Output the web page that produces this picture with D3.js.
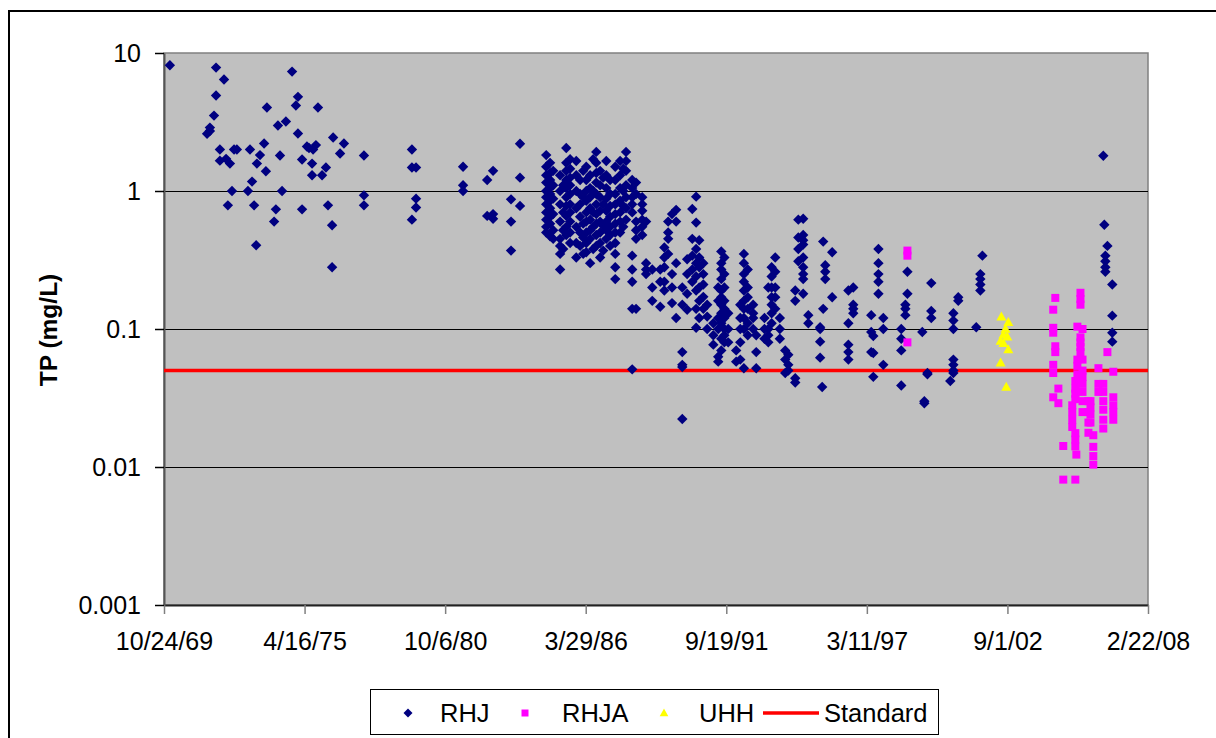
<!DOCTYPE html>
<html>
<head>
<meta charset="utf-8">
<script src="https://cdn.jsdelivr.net/npm/d3@7"></script>
<style>
  body { margin: 0; background: #fff; }
  svg { display: block; font-family: "Liberation Sans", Arial, sans-serif; }
</style>
</head>
<body>
<div id="chart"></div>
<script>
// sampling dates as decimal years, values as TP (mg/L)
const rhj = [
    [1970.04, [8.15]],
    [1971.49, [2.6]],
    [1971.60, [2.72, 2.88]],
    [1971.76, [3.52]],
    [1971.84, [7.84, 4.92]],
    [1971.99, [2.0, 1.66]],
    [1972.15, [6.42]],
    [1972.23, [1.71]],
    [1972.30, [0.787]],
    [1972.38, [1.58]],
    [1972.46, [1.0]],
    [1972.54, [2.0]],
    [1972.65, [2.0]],
    [1973.08, [1.0]],
    [1973.16, [2.0]],
    [1973.24, [1.17]],
    [1973.32, [0.787]],
    [1973.40, [0.404]],
    [1973.43, [1.58]],
    [1973.55, [1.82]],
    [1973.71, [2.21]],
    [1973.78, [1.39]],
    [1973.82, [4.03]],
    [1974.10, [0.60]],
    [1974.17, [0.736]],
    [1974.25, [2.98]],
    [1974.33, [1.81]],
    [1974.41, [1.0]],
    [1974.56, [3.19]],
    [1974.80, [7.33]],
    [1974.95, [4.16]],
    [1975.03, [4.81, 2.61]],
    [1975.19, [1.69, 0.736]],
    [1975.38, [2.1]],
    [1975.46, [2.05]],
    [1975.58, [1.58, 1.3]],
    [1975.62, [2.0]],
    [1975.73, [2.15]],
    [1975.81, [4.03]],
    [1975.97, [1.3]],
    [1976.12, [1.48]],
    [1976.20, [0.787]],
    [1976.36, [0.564, 0.28]],
    [1976.40, [2.44]],
    [1976.67, [1.87]],
    [1976.82, [2.21]],
    [1977.60, [1.81, 0.93, 0.787]],
    [1979.47, [2.0, 1.48, 0.62]],
    [1979.63, [1.48, 0.88, 0.76]],
    [1981.46, [1.5, 1.1, 1.0]],
    [1982.40, [1.2, 0.66]],
    [1982.63, [1.4, 0.68, 0.63]],
    [1983.33, [0.87, 0.6, 0.37]],
    [1983.68, [2.2, 1.25, 0.78]],
    [1984.70, [1.82, 1.5, 1.3, 1.15, 1.0, 0.9, 0.8, 0.7, 0.62, 0.55, 0.5]],
    [1984.85, [1.6, 1.35, 1.2, 1.05, 0.95, 0.85, 0.75, 0.65, 0.58, 0.47]],
    [1984.97, [1.4, 1.1, 0.88, 0.68, 0.52, 0.45]],
    [1985.24, [1.3, 1.0, 0.8, 0.6, 0.45, 0.4, 0.35, 0.27]],
    [1985.36, [1.1, 0.7, 0.52, 0.38]],
    [1985.48, [2.05, 1.6, 1.4, 1.2, 1.05, 0.9, 0.78, 0.66, 0.55, 0.48]],
    [1985.63, [1.7, 1.45, 1.25, 1.1, 0.95, 0.8, 0.7, 0.6, 0.5, 0.42]],
    [1985.87, [1.65, 1.3, 1.0, 0.75, 0.55, 0.42, 0.33]],
    [1986.02, [1.2, 0.95, 0.8, 0.65, 0.5, 0.4]],
    [1986.14, [1.4, 0.9, 0.58, 0.46, 0.35]],
    [1986.26, [1.5, 1.2, 1.0, 0.85, 0.7, 0.6, 0.5, 0.42, 0.36]],
    [1986.41, [1.3, 1.05, 0.9, 0.75, 0.62, 0.52, 0.45, 0.3]],
    [1986.53, [1.7, 1.0, 0.7, 0.55, 0.38]],
    [1986.65, [1.92, 1.6, 1.35, 1.15, 0.95, 0.8, 0.68, 0.58, 0.48, 0.4]],
    [1986.80, [1.4, 1.1, 0.9, 0.72, 0.6, 0.5, 0.42, 0.33]],
    [1986.92, [1.25, 0.8, 0.56, 0.37]],
    [1987.04, [1.65, 1.3, 1.05, 0.88, 0.72, 0.6, 0.52, 0.45]],
    [1987.19, [1.2, 0.95, 0.78, 0.65, 0.55, 0.48, 0.4]],
    [1987.39, [1.5, 1.2, 0.95, 0.8, 0.68, 0.58, 0.5, 0.42, 0.35, 0.28, 0.23]],
    [1987.58, [1.65, 1.3, 1.05, 0.85, 0.7, 0.6, 0.5]],
    [1987.70, [1.45, 1.0, 0.78, 0.55]],
    [1987.81, [1.92, 1.65, 1.4, 1.1, 0.9, 0.75, 0.62]],
    [1988.05, [1.2, 1.05, 0.9, 0.8, 0.7, 0.34, 0.27, 0.22, 0.14, 0.051]],
    [1988.20, [1.15, 0.95, 0.6, 0.52, 0.45, 0.14]],
    [1988.44, [0.9, 0.8, 0.72, 0.62, 0.55, 0.48]],
    [1988.59, [0.6, 0.3, 0.27, 0.25]],
    [1988.83, [0.27, 0.2, 0.16]],
    [1989.14, [0.27, 0.22, 0.145]],
    [1989.30, [0.39, 0.33, 0.28, 0.22, 0.19]],
    [1989.45, [0.6, 0.5, 0.45, 0.35]],
    [1989.60, [0.68, 0.25, 0.2, 0.154]],
    [1989.76, [0.73, 0.6, 0.3, 0.12]],
    [1990.00, [0.15, 0.2, 0.068, 0.055, 0.053, 0.0223]],
    [1990.19, [0.32, 0.25, 0.18, 0.138]],
    [1990.39, [0.74, 0.45, 0.34, 0.27, 0.22]],
    [1990.54, [0.91, 0.59, 0.38, 0.3, 0.24, 0.19, 0.14, 0.102]],
    [1990.66, [0.44, 0.33, 0.28, 0.2, 0.16, 0.12]],
    [1990.82, [0.3, 0.25, 0.21, 0.171, 0.14]],
    [1990.97, [0.15, 0.123, 0.1]],
    [1991.21, [0.077, 0.09, 0.11]],
    [1991.40, [0.2, 0.16, 0.12, 0.1, 0.063, 0.058]],
    [1991.52, [0.365, 0.3, 0.27, 0.23, 0.19, 0.17, 0.15, 0.13, 0.11, 0.085, 0.07]],
    [1991.64, [0.33, 0.25, 0.2, 0.16, 0.14, 0.12, 0.1, 0.09, 0.08]],
    [1991.79, [0.13, 0.1, 0.08]],
    [1992.10, [0.07, 0.058]],
    [1992.26, [0.15, 0.12, 0.1, 0.08, 0.06]],
    [1992.40, [0.35, 0.3, 0.25, 0.22, 0.19, 0.16, 0.14, 0.12, 0.1, 0.052]],
    [1992.55, [0.27, 0.2, 0.17, 0.14, 0.11, 0.09]],
    [1992.76, [0.15, 0.13, 0.12, 0.1]],
    [1992.88, [0.09, 0.068, 0.052]],
    [1993.20, [0.12, 0.1, 0.085]],
    [1993.35, [0.2, 0.1, 0.09, 0.08]],
    [1993.48, [0.28, 0.24, 0.2, 0.17, 0.15, 0.13, 0.11]],
    [1993.62, [0.33, 0.26, 0.2, 0.17, 0.14]],
    [1993.80, [0.12, 0.1, 0.085]],
    [1994.01, [0.07, 0.06, 0.048]],
    [1994.13, [0.065, 0.055, 0.05]],
    [1994.40, [0.19, 0.16, 0.044, 0.041]],
    [1994.52, [0.62, 0.46, 0.38, 0.31]],
    [1994.71, [0.63, 0.48, 0.44, 0.41, 0.33, 0.28, 0.25, 0.23, 0.18]],
    [1994.91, [0.126, 0.11]],
    [1995.37, [0.103, 0.1, 0.081, 0.062]],
    [1995.45, [0.038]],
    [1995.49, [0.43, 0.14]],
    [1995.57, [0.29, 0.26, 0.23]],
    [1995.84, [0.36, 0.17]],
    [1996.47, [0.19, 0.11, 0.077, 0.068, 0.06]],
    [1996.66, [0.2, 0.15, 0.14, 0.13]],
    [1997.36, [0.126, 0.095, 0.068]],
    [1997.44, [0.089, 0.067, 0.045]],
    [1997.64, [0.38, 0.30, 0.25, 0.22, 0.18]],
    [1997.83, [0.12, 0.10, 0.055]],
    [1998.53, [0.1, 0.085, 0.07, 0.039]],
    [1998.69, [0.15, 0.14, 0.126]],
    [1998.77, [0.26, 0.18]],
    [1999.35, [0.095]],
    [1999.43, [0.03, 0.029]],
    [1999.55, [0.048, 0.047]],
    [1999.70, [0.215, 0.135, 0.12]],
    [2000.44, [0.042]],
    [2000.56, [0.13, 0.115, 0.10, 0.06, 0.055, 0.05, 0.048]],
    [2000.75, [0.17, 0.16]],
    [2001.45, [0.103]],
    [2001.61, [0.25, 0.23, 0.21, 0.19]],
    [2001.69, [0.34]],
    [2006.40, [1.8]],
    [2006.44, [0.57]],
    [2006.48, [0.34, 0.31, 0.28, 0.26]],
    [2006.56, [0.40]],
    [2006.75, [0.21, 0.125, 0.094, 0.081]]
];

const rhja = [
    [1998.77, [0.37, 0.34, 0.08]],
    [2004.45, [0.138, 0.102, 0.094, 0.055, 0.048, 0.032]],
    [2004.53, [0.168, 0.075, 0.068]],
    [2004.65, [0.037, 0.029]],
    [2004.84, [0.0142, 0.0081]],
    [2005.19, [0.028, 0.025, 0.022, 0.0195]],
    [2005.31, [0.0176, 0.0158, 0.0141, 0.042, 0.037, 0.034, 0.031, 0.0081]],
    [2005.35, [0.0123]],
    [2005.39, [0.104, 0.06, 0.054, 0.047]],
    [2005.51, [0.087, 0.08, 0.074, 0.068, 0.183, 0.165, 0.15]],
    [2005.59, [0.1, 0.06, 0.05, 0.045, 0.04, 0.035, 0.03, 0.025]],
    [2005.82, [0.0177, 0.03, 0.025, 0.021]],
    [2005.90, [0.03, 0.027, 0.024, 0.021]],
    [2006.01, [0.014, 0.012, 0.0104, 0.017]],
    [2006.21, [0.052, 0.04, 0.035]],
    [2006.40, [0.04, 0.035, 0.03, 0.026, 0.022, 0.019]],
    [2006.56, [0.068]],
    [2006.79, [0.049, 0.032, 0.028, 0.025, 0.022]]
];

const uhh = [
    [2002.43, [0.123]],
    [2002.70, [0.112, 0.071]],
    [2002.59, [0.1]],
    [2002.51, [0.091, 0.079]],
    [2002.40, [0.082, 0.057]],
    [2002.66, [0.088]],
    [2002.62, [0.038]]
];

const standard = 0.05;
const yTicks = [0.001, 0.01, 0.1, 1, 10];
const tickStepDays = 2000;
const seriesNames = ["RHJ", "RHJA", "UHH", "Standard"];

// decimal year -> UTC date
const toDate = y => {
    const yr = Math.floor(y);
    const t0 = Date.UTC(yr, 0, 1), t1 = Date.UTC(yr + 1, 0, 1);
    return new Date(t0 + (y - yr) * (t1 - t0));
};

const flatten = groups => {
    let out = [];
    for (const g of groups) {
        for (const v of g[1]) out.push({date: toDate(g[0]), value: v});
    }
    return out;
};

const render = () => {
    const width = 1216, height = 738;
    const m = {left: 164, top: 53, right: 1148, bottom: 605};

    let svg = d3.select("#chart").append("svg")
        .attr("width", width)
        .attr("height", height);

    // outer chart border (runs off the right and bottom edges)
    svg.append("rect")
        .attr("x", 9).attr("y", 11)
        .attr("width", 1220).attr("height", 740)
        .attr("fill", "#fff").attr("stroke", "#000").attr("stroke-width", 2);

    const start = new Date(Date.UTC(1969, 9, 24));
    const end = d3.utcDay.offset(start, tickStepDays * 7);

    const x = d3.scaleUtc().domain([start, end]).range([m.left, m.right]);
    const y = d3.scaleLog().domain([0.001, 10]).range([m.bottom, m.top]);

    svg.append("rect")
        .attr("x", m.left).attr("y", m.top)
        .attr("width", m.right - m.left).attr("height", m.bottom - m.top)
        .attr("fill", "#c0c0c0").attr("stroke", "#808080").attr("stroke-width", 1.5);

    // gridlines
    svg.append("g")
        .attr("shape-rendering", "crispEdges")
        .selectAll("line")
        .data(yTicks.filter(d => d > 0.001 && d < 10))
        .join("line")
        .attr("x1", m.left).attr("x2", m.right)
        .attr("y1", d => Math.round(y(d)) + 0.5).attr("y2", d => Math.round(y(d)) + 0.5)
        .attr("stroke", "#000").attr("stroke-width", 1);

    const xTickVals = d3.range(0, 8).map(i => d3.utcDay.offset(start, tickStepDays * i));
    const fmt = d => `${d.getUTCMonth() + 1}/${d.getUTCDate()}/${String(d.getUTCFullYear()).slice(2)}`;

    const xAxis = svg.append("g")
        .attr("transform", `translate(0,${m.bottom})`)
        .call(d3.axisBottom(x).tickValues(xTickVals).tickFormat(fmt).tickSize(9).tickSizeOuter(0).tickPadding(18));
    xAxis.select(".domain").attr("stroke", "#222").attr("stroke-width", 2);
    xAxis.selectAll(".tick line").attr("stroke", "#808080").attr("stroke-width", 1.5);
    xAxis.selectAll("text").attr("font-size", 25).attr("fill", "#000").attr("font-family", "Liberation Sans, Arial");

    const yAxis = svg.append("g")
        .attr("transform", `translate(${m.left},0)`)
        .call(d3.axisLeft(y).tickValues(yTicks).tickFormat(d => String(d)).tickSize(9).tickSizeOuter(0).tickPadding(14));
    yAxis.select(".domain").attr("stroke", "#555").attr("stroke-width", 2);
    yAxis.selectAll(".tick line").attr("stroke", "#000").attr("stroke-width", 1.5);
    yAxis.selectAll("text").attr("font-size", 25).attr("fill", "#000").attr("font-family", "Liberation Sans, Arial");

    svg.append("text")
        .attr("transform", `translate(57,${(m.top + m.bottom) / 2 + 1}) rotate(-90)`)
        .attr("text-anchor", "middle")
        .attr("font-size", 24.5).attr("font-weight", "bold")
        .text("TP (mg/L)");

    // standard line
    svg.append("line")
        .attr("x1", x(start)).attr("x2", x(end))
        .attr("y1", y(standard)).attr("y2", y(standard))
        .attr("stroke", "#ff0000").attr("stroke-width", 3.5);

    const diamond = "M0,-5.2L5.2,0L0,5.2L-5.2,0Z";
    const square = "M-4,-4H4V4H-4Z";
    const triangle = "M0,-5.2L5,3.8H-5Z";

    const drawSeries = (data, path, color) => {
        svg.append("g")
            .selectAll("path")
            .data(data)
            .join("path")
            .attr("d", path)
            .attr("transform", d => `translate(${x(d.date)},${y(d.value)})`)
            .attr("fill", color);
    };

    drawSeries(flatten(rhj), diamond, "#000080");
    drawSeries(flatten(rhja), square, "#ff00ff");
    drawSeries(flatten(uhh), triangle, "#ffff00");

    // legend
    let lg = svg.append("g");
    lg.append("rect")
        .attr("x", 370.5).attr("y", 689.5).attr("width", 568).attr("height", 45)
        .attr("fill", "#fff").attr("stroke", "#000").attr("stroke-width", 1);

    const ly = 713;
    const smallDiamond = "M0,-4.5L4.5,0L0,4.5L-4.5,0Z";
    const smallSquare = "M-3.5,-3.5H3.5V3.5H-3.5Z";
    const smallTriangle = "M0,-4.5L4.3,3.3H-4.3Z";
    lg.append("path").attr("d", smallDiamond).attr("transform", `translate(408,${ly})`).attr("fill", "#000080");
    lg.append("path").attr("d", smallSquare).attr("transform", `translate(525,${ly})`).attr("fill", "#ff00ff");
    lg.append("path").attr("d", smallTriangle).attr("transform", `translate(664,${ly})`).attr("fill", "#ffff00");
    lg.append("line").attr("x1", 763).attr("x2", 819).attr("y1", ly).attr("y2", ly)
        .attr("stroke", "#ff0000").attr("stroke-width", 3.5);

    const labelX = [440, 562, 699, 824];
    lg.selectAll("text.lab")
        .data(seriesNames)
        .join("text")
        .attr("class", "lab")
        .attr("x", (d, i) => labelX[i])
        .attr("y", ly + 9)
        .attr("font-size", 25.5)
        .text(d => d);
};

render();
</script>
</body>
</html>
